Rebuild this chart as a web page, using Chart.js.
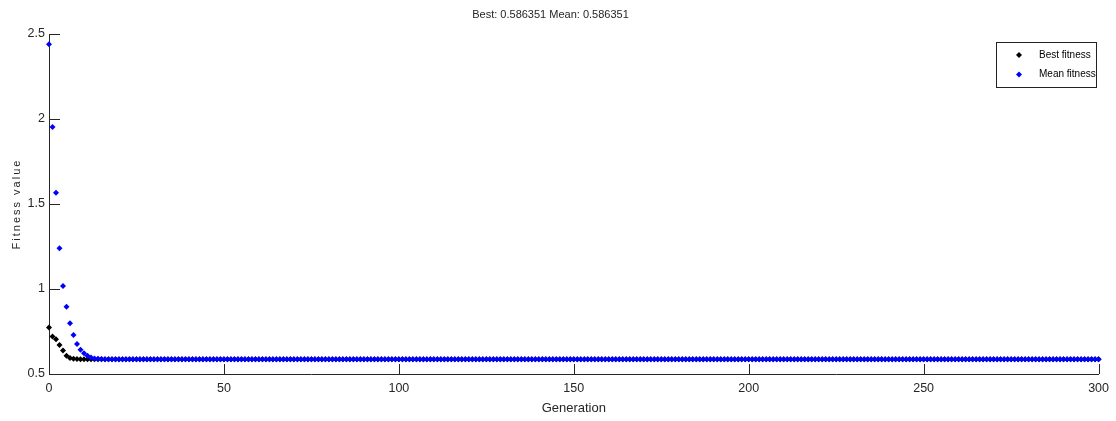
<!DOCTYPE html>
<html>
<head>
<meta charset="utf-8">
<script src="https://cdn.jsdelivr.net/npm/chart.js@4.4.1/dist/chart.umd.min.js"></script>
<style>
    html, body { margin: 0; padding: 0; background: #fff; }
    #contenedor { width: 1116px; height: 421px; }
</style>
</head>
<body>
<div id="contenedor"><canvas id="grafico" width="1116" height="421"></canvas></div>
<script>
// valores de la corrida del algoritmo genetico
const tituloTexto = 'Best: 0.586351 Mean: 0.586351';
const etiquetaX = 'Generation';
const etiquetaY = 'Fitness value';
const nombresSeries = ['Best fitness', 'Mean fitness'];
const coloresSeries = ['#000000', '#0000ff'];

const ultimaGeneracion = 300;
const valorFinal = 0.586351;
// primeras generaciones, antes de quedar en el valor final
const mejorInicio = [0.774, 0.721, 0.704, 0.671, 0.638, 0.608, 0.594, 0.590, 0.588, 0.587, 0.5866];
const mediaInicio = [2.44, 1.953, 1.566, 1.240, 1.018, 0.896, 0.799, 0.730, 0.676, 0.643, 0.622,
                     0.607, 0.597, 0.591, 0.589, 0.588, 0.587, 0.5866];

const ticksX = [0, 50, 100, 150, 200, 250, 300];
const ticksY = [0.5, 1, 1.5, 2, 2.5];

const fuente = "'Liberation Sans', Arial, sans-serif";
const colorTexto = '#262626';

function serieCompleta(inicio) {
    const puntos = [];
    for (let g = 0; g <= ultimaGeneracion; g++) {
        puntos.push({ x: g, y: g < inicio.length ? inicio[g] : valorFinal });
    }
    return puntos;
}

// marcas de los ejes hacia adentro, leyenda y titulo vertical
const decoracion = {
    id: 'decoracion',
    afterDraw(chart) {
        const c = chart.ctx;
        const area = chart.chartArea;
        const sx = chart.scales.x, sy = chart.scales.y;
        c.save();
        c.strokeStyle = colorTexto;
        c.lineWidth = 1;
        c.beginPath();
        sx.ticks.forEach(t => {
            const px = Math.round(sx.getPixelForValue(t.value)) + 0.5;
            c.moveTo(px, area.bottom);
            c.lineTo(px, area.bottom - 10);
        });
        sy.ticks.forEach(t => {
            const py = Math.round(sy.getPixelForValue(t.value)) + 0.5;
            c.moveTo(area.left, py);
            c.lineTo(area.left + 11, py);
        });
        c.stroke();

        // titulo del eje y con letras espaciadas
        c.fillStyle = colorTexto;
        c.font = '11px ' + fuente;
        c.letterSpacing = '2px';
        c.textAlign = 'center';
        c.textBaseline = 'middle';
        c.translate(17, (area.top + area.bottom) / 2);
        c.rotate(-Math.PI / 2);
        c.fillText(etiquetaY, 0, 0);
        c.restore();

        // leyenda
        c.save();
        const lx = 996.5, ly = 42.5, lw = 100, lh = 45;
        c.fillStyle = '#fff';
        c.fillRect(lx, ly, lw, lh);
        c.strokeStyle = '#222';
        c.strokeRect(lx, ly, lw, lh);
        c.font = '10px ' + fuente;
        c.textBaseline = 'middle';
        chart.data.datasets.forEach((ds, i) => {
            const yy = 55 + i * 19.5;
            const r = 3;
            c.fillStyle = ds.backgroundColor;
            c.beginPath();
            c.moveTo(1019, yy - r);
            c.lineTo(1019 + r, yy);
            c.lineTo(1019, yy + r);
            c.lineTo(1019 - r, yy);
            c.closePath();
            c.fill();
            c.fillStyle = '#000';
            c.fillText(ds.label, 1039, yy);
        });
        c.restore();
    }
};

const ctx = document.getElementById('grafico').getContext('2d');
new Chart(ctx, {
    type: 'scatter',
    data: {
        datasets: [
            {
                label: nombresSeries[0],
                data: serieCompleta(mejorInicio),
                backgroundColor: coloresSeries[0],
                borderColor: coloresSeries[0],
                clip: false,
                order: 2,
            },
            {
                label: nombresSeries[1],
                data: serieCompleta(mediaInicio),
                backgroundColor: coloresSeries[1],
                borderColor: coloresSeries[1],
                clip: false,
                order: 1,
            },
        ],
    },
    options: {
        responsive: false,
        animation: false,
        layout: { padding: { left: 0, right: 15, top: 0, bottom: 0 } },
        elements: {
            point: { pointStyle: 'rectRot', radius: 3, borderWidth: 0 },
        },
        scales: {
            x: {
                type: 'linear',
                min: 0,
                max: ultimaGeneracion,
                afterBuildTicks: s => { s.ticks = ticksX.map(v => ({ value: v })); },
                afterFit: s => { s.height = 47; },
                grid: { display: false, drawTicks: false },
                border: { display: true, color: colorTexto, width: 1 },
                ticks: {
                    padding: 7,
                    color: colorTexto,
                    font: { family: fuente, size: 12.5 },
                    maxRotation: 0,
                    callback: v => String(v),
                },
                title: {
                    display: true,
                    text: etiquetaX,
                    color: colorTexto,
                    font: { family: fuente, size: 13 },
                    padding: { top: 0, bottom: 5 },
                },
            },
            y: {
                type: 'linear',
                min: 0.5,
                max: 2.5,
                afterBuildTicks: s => { s.ticks = ticksY.map(v => ({ value: v })); },
                afterFit: s => { s.width = 49; },
                grid: { display: false, drawTicks: false },
                border: { display: true, color: colorTexto, width: 1 },
                ticks: {
                    padding: 4,
                    color: colorTexto,
                    font: { family: fuente, size: 12.5 },
                    callback: v => String(v),
                },
            },
        },
        plugins: {
            legend: { display: false },
            tooltip: { enabled: false },
            title: {
                display: true,
                text: tituloTexto,
                color: colorTexto,
                font: { family: fuente, size: 11, weight: 'normal', lineHeight: '16px' },
                padding: { top: 7, bottom: 11 },
            },
        },
    },
    plugins: [decoracion],
});
</script>
</body>
</html>
